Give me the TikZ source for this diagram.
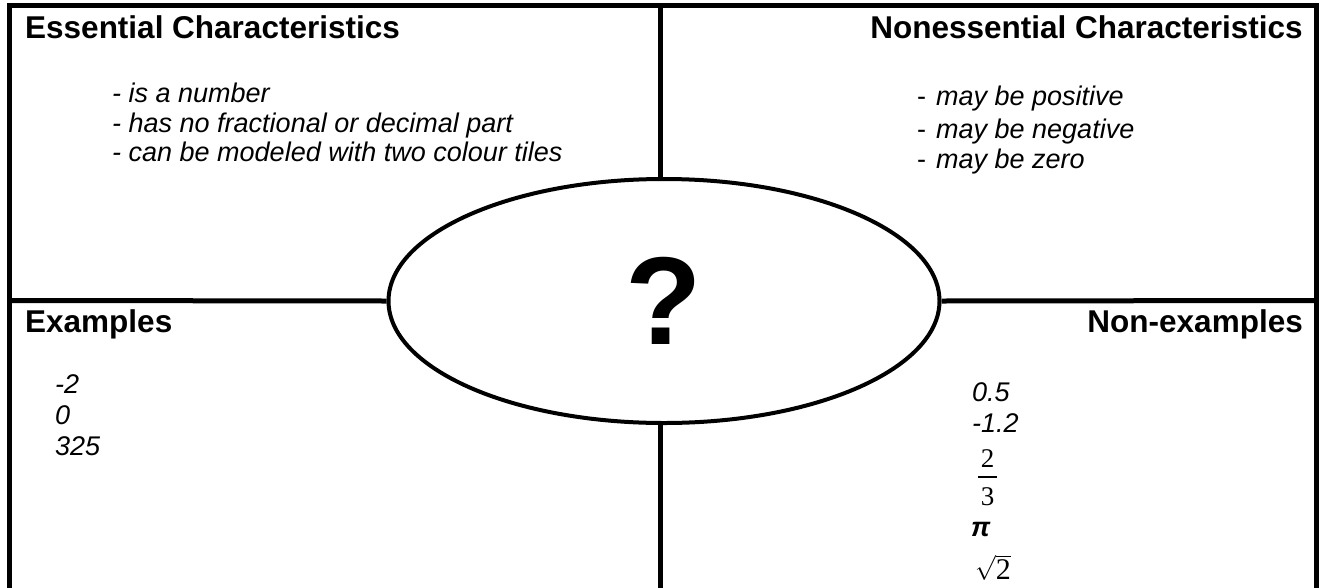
\documentclass[tikz,border=0pt]{standalone}
\usepackage{fontspec}
\setmainfont{Liberation Sans}
\newfontfamily\serifnum{Liberation Serif}
\usetikzlibrary{shapes.geometric}
\begin{document}
\begin{tikzpicture}[x=1pt,y=-1pt,
  frame/.style={line width=5pt},
  titlebox/.style={font=\fontsize{31.5}{38}\selectfont\bfseries, inner sep=0pt},
  itembox/.style={font=\fontsize{27}{32}\selectfont\itshape, inner sep=0pt},
  serifbox/.style={font=\serifnum\fontsize{27}{32}\selectfont, inner sep=0pt},
]
\useasboundingbox (0,0) rectangle (1320,587);
\clip (0,0) rectangle (1320,587);
% frame corners and mid points
\coordinate (tl) at (9,5.5);
\coordinate (tr) at (1316,5.5);
\coordinate (bl) at (9,600);
\coordinate (br) at (1316,600);
\coordinate (tm) at (660,5.5);
\coordinate (bm) at (660,600);
\coordinate (lm) at (9,300.5);
\coordinate (rm) at (1316,300.5);
\draw[frame] (bl) -- (tl) -- (tr) -- (br);
% central ellipse
\node[ellipse, draw, line width=4pt, minimum width=551pt, minimum height=244pt, inner sep=0pt,
      font=\fontsize{125}{130}\selectfont\bfseries] (q) at (664,301) {?};
\draw[frame] (tm) -- (tm |- q.north);
\draw[frame] (bm) -- (bm |- q.south);
\draw[frame] (lm) -- (q.west);
\draw[frame] (rm) -- (q.east);
% titles
\node[titlebox, anchor=base west] (ecT) at (25,38) {Essential Characteristics};
\node[titlebox, anchor=base east] (ncT) at (1303,38) {Nonessential Characteristics};
\node[titlebox, anchor=base west] (exT) at (25,332) {Examples};
\node[titlebox, anchor=base east] (neT) at (1303,332) {Non-examples};
% essential characteristics
\node[itembox, anchor=base west] (ec1) at (112,102) {- is a number};
\node[itembox, anchor=base west] (ec2) at (112,132) {- has no fractional or decimal part};
\node[itembox, anchor=base west] (ec3) at (112,161) {- can be modeled with two colour tiles};
% nonessential characteristics
\node[itembox, anchor=base west] (nc1) at (917,105) {\upshape-\hspace{10pt}\itshape may be positive};
\node[itembox, anchor=base west] (nc2) at (917,138) {\upshape-\hspace{10pt}\itshape may be negative};
\node[itembox, anchor=base west] (nc3) at (917,168) {\upshape-\hspace{10pt}\itshape may be zero};
% examples
\node[itembox, anchor=base west] (ex1) at (55,393) {-2};
\node[itembox, anchor=base west] (ex2) at (55,424) {0};
\node[itembox, anchor=base west] (ex3) at (55,455) {325};
% non-examples
\node[itembox, anchor=base west] (ne1) at (972,401) {0.5};
\node[itembox, anchor=base west] (ne2) at (972,432) {-1.2};
\node[serifbox, anchor=base] (fn) at (987.5,467) {2};
\coordinate (fbl) at (978,477);
\coordinate (fbr) at (997,477);
\draw[line width=1.2pt] (fbl) -- (fbr);
\node[serifbox, anchor=base] (fd) at (987.5,505) {3};
\node[itembox, anchor=base west, font=\fontsize{27}{32}\selectfont\bfseries\itshape] (ne4) at (971,536) {π};
\node[inner sep=0pt, anchor=base west, font=\fontsize{30}{34}\selectfont] (ne5) at (975,579) {$\sqrt{\mbox{\serifnum 2}}$};
\end{tikzpicture}
\end{document}
